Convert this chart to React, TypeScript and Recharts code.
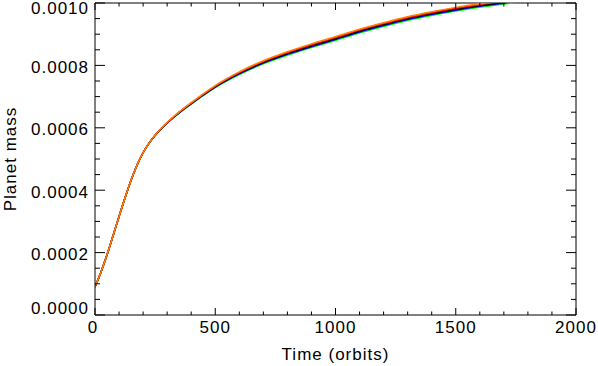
import React from "react";
import { LineChart, Line, XAxis, YAxis, ReferenceLine } from "recharts";

// Time in orbits
const times = [0, 25, 50, 75, 100, 125, 150, 175, 200, 225, 250, 275, 300, 325, 350, 400, 450, 500, 600, 700, 800, 900, 1000, 1100, 1200, 1300, 1400, 1500, 1600, 1700, 1800];

// Planet mass for each run
const orangeMass = [90e-6, 138e-6, 193e-6, 254e-6, 316e-6, 376e-6, 432e-6, 481e-6, 520e-6, 551e-6, 576.5e-6, 598e-6, 617e-6, 634.5e-6, 651e-6, 680.5e-6, 709e-6, 735.5e-6, 779.5e-6, 815e-6, 843.5e-6, 869e-6, 892e-6, 916e-6, 937e-6, 956e-6, 972e-6, 986e-6, 997.5e-6, 1007e-6, 1017e-6];
const redMass = [90e-6, 138e-6, 193e-6, 254e-6, 316e-6, 376e-6, 432e-6, 481e-6, 520e-6, 551e-6, 576.25e-6, 597.5e-6, 616.5e-6, 633.75e-6, 650e-6, 679.25e-6, 707.5e-6, 733.75e-6, 777.25e-6, 812.5e-6, 840.75e-6, 866e-6, 889e-6, 913e-6, 934e-6, 953e-6, 969e-6, 983e-6, 994.75e-6, 1004.5e-6, 1014.5e-6];
const blackMass = [90e-6, 138e-6, 193e-6, 254e-6, 316e-6, 376e-6, 432e-6, 481e-6, 520e-6, 551e-6, 576e-6, 597e-6, 616e-6, 633e-6, 649e-6, 678e-6, 706e-6, 732e-6, 775e-6, 810e-6, 838e-6, 863e-6, 886e-6, 910e-6, 931e-6, 950e-6, 966e-6, 980e-6, 992e-6, 1002e-6, 1012e-6];
const blueMass = [90e-6, 138e-6, 193e-6, 254e-6, 316e-6, 376e-6, 432e-6, 481e-6, 520e-6, 551e-6, 575.75e-6, 596.5e-6, 615.5e-6, 632.25e-6, 648e-6, 676.75e-6, 704.5e-6, 730.25e-6, 772.75e-6, 807.5e-6, 835.25e-6, 860e-6, 883e-6, 907e-6, 928e-6, 947e-6, 963e-6, 977e-6, 989.25e-6, 999.5e-6, 1009.5e-6];
const greenMass = [90e-6, 138e-6, 193e-6, 254e-6, 316e-6, 376e-6, 432e-6, 481e-6, 520e-6, 551e-6, 575.5e-6, 596e-6, 615e-6, 631.5e-6, 647e-6, 675.5e-6, 703e-6, 728.5e-6, 770.5e-6, 805e-6, 832.5e-6, 857e-6, 880e-6, 904e-6, 925e-6, 944e-6, 960e-6, 974e-6, 986.5e-6, 997e-6, 1007e-6];

const xTicks = [0, 100, 200, 300, 400, 500, 600, 700, 800, 900, 1000, 1100, 1200, 1300, 1400, 1500, 1600, 1700, 1800, 1900, 2000];
const xMajor = [0, 500, 1000, 1500, 2000];
const yTicks = [0, 0.00005, 0.0001, 0.00015, 0.0002, 0.00025, 0.0003, 0.00035, 0.0004, 0.00045, 0.0005, 0.00055, 0.0006, 0.00065, 0.0007, 0.00075, 0.0008, 0.00085, 0.0009, 0.00095, 0.001];
const yMajor = [0, 0.0002, 0.0004, 0.0006, 0.0008, 0.001];

const data = times.map((t, i) => ({
  t,
  green: greenMass[i],
  blue: blueMass[i],
  black: blackMass[i],
  red: redMass[i],
  orange: orangeMass[i],
}));

const W = 598;
const H = 366;
const M = { top: 3, right: 22, bottom: 0, left: 0 };
const YW = 95;
const XH = 51;
const PLOT_TOP = M.top;
const PLOT_BOTTOM = H - M.bottom - XH;
const PLOT_LEFT = M.left + YW;
const PLOT_RIGHT = W - M.right;
const FONT = "'Liberation Sans', Arial, Helvetica, sans-serif";

const isMajor = (v: number, list: number[]) => list.some((m) => Math.abs(m - v) < 1e-9);

const XTick = (props: any) => {
  const { x, payload } = props;
  const v = payload.value;
  const major = isMajor(v, xMajor);
  const len = major ? 7 : 3.5;
  return (
    <g>
      <line x1={x} x2={x} y1={PLOT_BOTTOM} y2={PLOT_BOTTOM - len} stroke="#000" strokeWidth={1} />
      <line x1={x} x2={x} y1={PLOT_TOP} y2={PLOT_TOP + len} stroke="#000" strokeWidth={1} />
      {major && (
        <text x={x - (v === 0 ? 2 : 0)} y={PLOT_BOTTOM + 18} textAnchor="middle" fontSize={17} letterSpacing={1} fontFamily={FONT} fill="#000">
          {String(v)}
        </text>
      )}
    </g>
  );
};

const YTick = (props: any) => {
  const { y, payload } = props;
  const v = payload.value;
  const major = isMajor(v, yMajor);
  const len = major ? 10 : 5;
  let dy = 7.3;
  if (v === 0) dy = -1;
  if (Math.abs(v - 0.001) < 1e-9) dy = 11;
  return (
    <g>
      <line x1={PLOT_LEFT} x2={PLOT_LEFT + len} y1={y} y2={y} stroke="#000" strokeWidth={1} />
      <line x1={PLOT_RIGHT} x2={PLOT_RIGHT - len} y1={y} y2={y} stroke="#000" strokeWidth={1} />
      {major && (
        <text x={PLOT_LEFT - 6} y={y + dy} textAnchor="end" fontSize={17} letterSpacing={1} fontFamily={FONT} fill="#000">
          {v.toFixed(4)}
        </text>
      )}
    </g>
  );
};

const YLabel = () => (
  <text
    transform={`translate(16, ${(PLOT_TOP + PLOT_BOTTOM) / 2}) rotate(-90)`}
    textAnchor="middle"
    fontSize={17}
    letterSpacing={1}
    fontFamily={FONT}
    fill="#000"
  >
    Planet mass
  </text>
);

export default function App() {
  return (
    <div style={{ position: "absolute", left: 0, top: 0, width: W, height: H, background: "#fff" }}>
      <LineChart width={W} height={H} data={data} margin={M}>
        <XAxis
          dataKey="t"
          type="number"
          domain={[0, 2000]}
          ticks={xTicks}
          interval={0}
          height={XH}
          tickLine={false}
          tickSize={0}
          tick={<XTick />}
          axisLine={{ stroke: "#000", strokeWidth: 1 }}
          allowDataOverflow
          label={{ value: "Time (orbits)", position: "insideBottom", offset: 6, fontSize: 17, fontFamily: FONT, fill: "#000", letterSpacing: 1 } as any}
        />
        <YAxis
          type="number"
          domain={[0, 0.001]}
          ticks={yTicks}
          interval={0}
          width={YW}
          tickLine={false}
          tickSize={0}
          tick={<YTick />}
          axisLine={{ stroke: "#000", strokeWidth: 1 }}
          allowDataOverflow
          label={{ content: () => <YLabel /> } as any}
        />
        <ReferenceLine y={0.001} stroke="#000" strokeWidth={1} ifOverflow="visible" />
        <ReferenceLine x={2000} stroke="#000" strokeWidth={1} ifOverflow="visible" />
        <Line dataKey="green" type="monotone" stroke="#00ff00" strokeWidth={1.5} dot={false} isAnimationActive={false} />
        <Line dataKey="blue" type="monotone" stroke="#0000ff" strokeWidth={1.5} dot={false} isAnimationActive={false} />
        <Line dataKey="black" type="monotone" stroke="#000000" strokeWidth={1.5} dot={false} isAnimationActive={false} />
        <Line dataKey="red" type="monotone" stroke="#ff0000" strokeWidth={1.5} dot={false} isAnimationActive={false} />
        <Line dataKey="orange" type="monotone" stroke="#ff8000" strokeWidth={1.5} dot={false} isAnimationActive={false} />
      </LineChart>
    </div>
  );
}
